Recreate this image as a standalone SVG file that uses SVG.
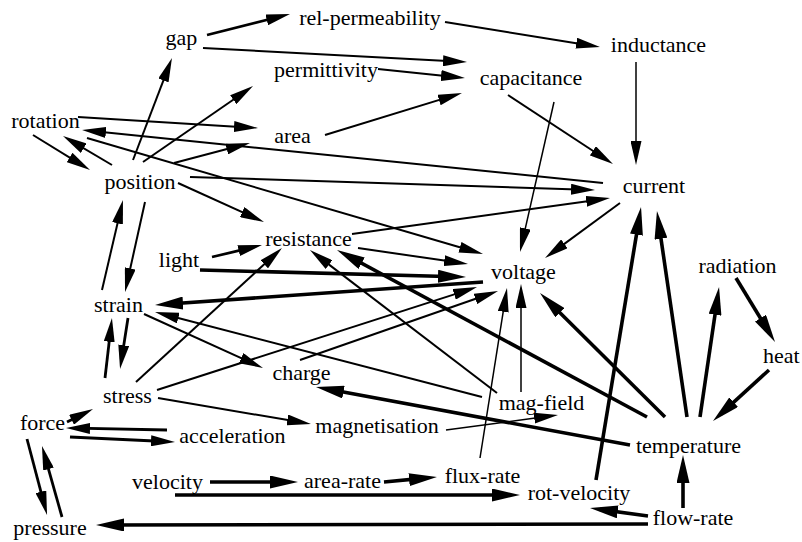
<svg xmlns="http://www.w3.org/2000/svg" width="802" height="542" viewBox="0 0 802 542">
<style>
.n text{font-family:"Liberation Serif","Times New Roman",serif;font-size:22px;fill:#000;text-anchor:middle}
.e{stroke:#000;stroke-width:2;fill:none;marker-end:url(#a)}
.m{stroke-width:2.8}
.t{stroke-width:3.6;marker-end:url(#b)}
.s{stroke-width:1.5}
</style>
<defs>
<marker id="a" viewBox="0 0 24 11" refX="14" refY="5.5" markerWidth="24" markerHeight="11" markerUnits="userSpaceOnUse" orient="auto"><path d="M0,0 L24,5.5 L0,11 z" fill="#000"/></marker>
<marker id="b" viewBox="0 0 28 13" refX="18" refY="6.5" markerWidth="28" markerHeight="13" markerUnits="userSpaceOnUse" orient="auto"><path d="M0,0 L28,6.5 L0,13 z" fill="#000"/></marker>
</defs>
<rect width="802" height="542" fill="#fff"/>
<g id="connectors">
<line class="e m" x1="207" y1="35" x2="280.3" y2="16.5"/>
<line class="e" x1="445" y1="22" x2="590.1" y2="45.4"/>
<line class="e" x1="203" y1="48" x2="457" y2="61.5"/>
<line class="e" x1="378" y1="69" x2="455" y2="77"/>
<line class="e" x1="325" y1="135" x2="452.4" y2="95.9"/>
<line class="e s" x1="636" y1="62" x2="636" y2="155"/>
<line class="e" x1="508" y1="95" x2="604.6" y2="158.5"/>
<line class="e s" x1="554" y1="102" x2="522.2" y2="242.2"/>
<line class="e" x1="78" y1="117" x2="248" y2="127.4"/>
<line class="e" x1="603" y1="183" x2="92" y2="131"/>
<line class="e" x1="33" y1="135" x2="81.5" y2="164.8"/>
<line class="e" x1="112" y1="165" x2="71.6" y2="141.1"/>
<line class="e" x1="133" y1="160" x2="168.4" y2="67.3"/>
<line class="e" x1="143" y1="162" x2="244.8" y2="91.7"/>
<line class="e" x1="174" y1="163" x2="240.3" y2="145.5"/>
<line class="e" x1="190" y1="177" x2="585" y2="189.7"/>
<line class="e" x1="352" y1="234" x2="600.1" y2="199.4"/>
<line class="e" x1="178" y1="183" x2="254.9" y2="217.9"/>
<line class="e" x1="87" y1="138" x2="473.4" y2="251.2"/>
<line class="e" x1="620" y1="203" x2="553.1" y2="252.1"/>
<line class="e" x1="358" y1="248" x2="458.1" y2="262.6"/>
<line class="e m" x1="212" y1="257" x2="252.3" y2="247.3"/>
<line class="e t" x1="200" y1="270" x2="456" y2="276.7"/>
<line class="e t" x1="483" y1="282" x2="165" y2="304.3"/>
<line class="e" x1="144" y1="314" x2="253.9" y2="363.9"/>
<line class="e" x1="482" y1="397" x2="164.7" y2="314.5"/>
<line class="e" x1="136" y1="382" x2="274.6" y2="254.8"/>
<line class="e" x1="157" y1="390" x2="467.5" y2="290.1"/>
<line class="e" x1="300" y1="360" x2="488.6" y2="294.3"/>
<line class="e" x1="497" y1="393" x2="317.9" y2="256.1"/>
<line class="e s" x1="521" y1="392" x2="521" y2="294"/>
<line class="e s" x1="480" y1="458" x2="505.4" y2="297.9"/>
<line class="e t" x1="665" y1="417" x2="547.1" y2="300"/>
<line class="e t" x1="647" y1="417" x2="345.8" y2="254.7"/>
<line class="e t" x1="630" y1="445" x2="325.8" y2="388.8"/>
<line class="e t" x1="596" y1="480" x2="639.4" y2="216.9"/>
<line class="e t" x1="687" y1="417" x2="658.4" y2="220.9"/>
<line class="e t" x1="700" y1="417" x2="717.6" y2="296.9"/>
<line class="e t" x1="736" y1="278" x2="769.8" y2="333.5"/>
<line class="e t" x1="769" y1="370" x2="720.4" y2="414.3"/>
<line class="e t" x1="683" y1="508" x2="683" y2="465"/>
<line class="e t" x1="648" y1="516" x2="599.9" y2="509.4"/>
<line class="e t" x1="648" y1="524" x2="106" y2="525"/>
<line class="e t" x1="210" y1="482" x2="288" y2="482"/>
<line class="e t" x1="384" y1="482" x2="427" y2="477.9"/>
<line class="e t" x1="175" y1="495" x2="510" y2="495"/>
<line class="e m" x1="67" y1="422" x2="84.1" y2="413.5"/>
<line class="e m" x1="167" y1="430" x2="76" y2="428.2"/>
<line class="e m" x1="70" y1="437" x2="165" y2="441.5"/>
<line class="e m" x1="27" y1="439" x2="44.5" y2="505.3"/>
<line class="e m" x1="62" y1="517" x2="44.7" y2="455.6"/>
<line class="e" x1="158" y1="398" x2="301.1" y2="422.3"/>
<line class="e s" x1="446" y1="430" x2="548.1" y2="416.3"/>
<line class="e m" x1="105" y1="378" x2="110.8" y2="327.9"/>
<line class="e m" x1="128" y1="318" x2="121.6" y2="359.1"/>
<line class="e" x1="145" y1="202" x2="127.2" y2="282.2"/>
<line class="e" x1="102" y1="290" x2="120.7" y2="209.7"/>
</g>
<g class="n">
<g id="gap"><text x="181.5" y="45">gap</text></g>
<g id="rel-permeability"><text x="370" y="25">rel-permeability</text></g>
<g id="permittivity"><text x="326" y="77">permittivity</text></g>
<g id="inductance"><text x="658.5" y="52">inductance</text></g>
<g id="capacitance"><text x="531" y="85">capacitance</text></g>
<g id="rotation"><text x="45.5" y="128">rotation</text></g>
<g id="area"><text x="292.5" y="143">area</text></g>
<g id="position"><text x="140" y="189">position</text></g>
<g id="current"><text x="654" y="193">current</text></g>
<g id="resistance"><text x="308.5" y="246">resistance</text></g>
<g id="light"><text x="179" y="267">light</text></g>
<g id="voltage"><text x="523.5" y="279">voltage</text></g>
<g id="radiation"><text x="737.5" y="273">radiation</text></g>
<g id="strain"><text x="118.5" y="312">strain</text></g>
<g id="heat"><text x="763" y="363" style="text-anchor:start">heat</text></g>
<g id="charge"><text x="301.5" y="380">charge</text></g>
<g id="stress"><text x="127.5" y="403">stress</text></g>
<g id="mag-field"><text x="541.5" y="410">mag-field</text></g>
<g id="force"><text x="42.5" y="430">force</text></g>
<g id="acceleration"><text x="232.5" y="443">acceleration</text></g>
<g id="magnetisation"><text x="377" y="433">magnetisation</text></g>
<g id="temperature"><text x="688.5" y="453">temperature</text></g>
<g id="velocity"><text x="167.5" y="489">velocity</text></g>
<g id="area-rate"><text x="342.5" y="488">area-rate</text></g>
<g id="flux-rate"><text x="482.5" y="483">flux-rate</text></g>
<g id="rot-velocity"><text x="579" y="500">rot-velocity</text></g>
<g id="flow-rate"><text x="693" y="525">flow-rate</text></g>
<g id="pressure"><text x="50" y="535">pressure</text></g>
</g>
</svg>
